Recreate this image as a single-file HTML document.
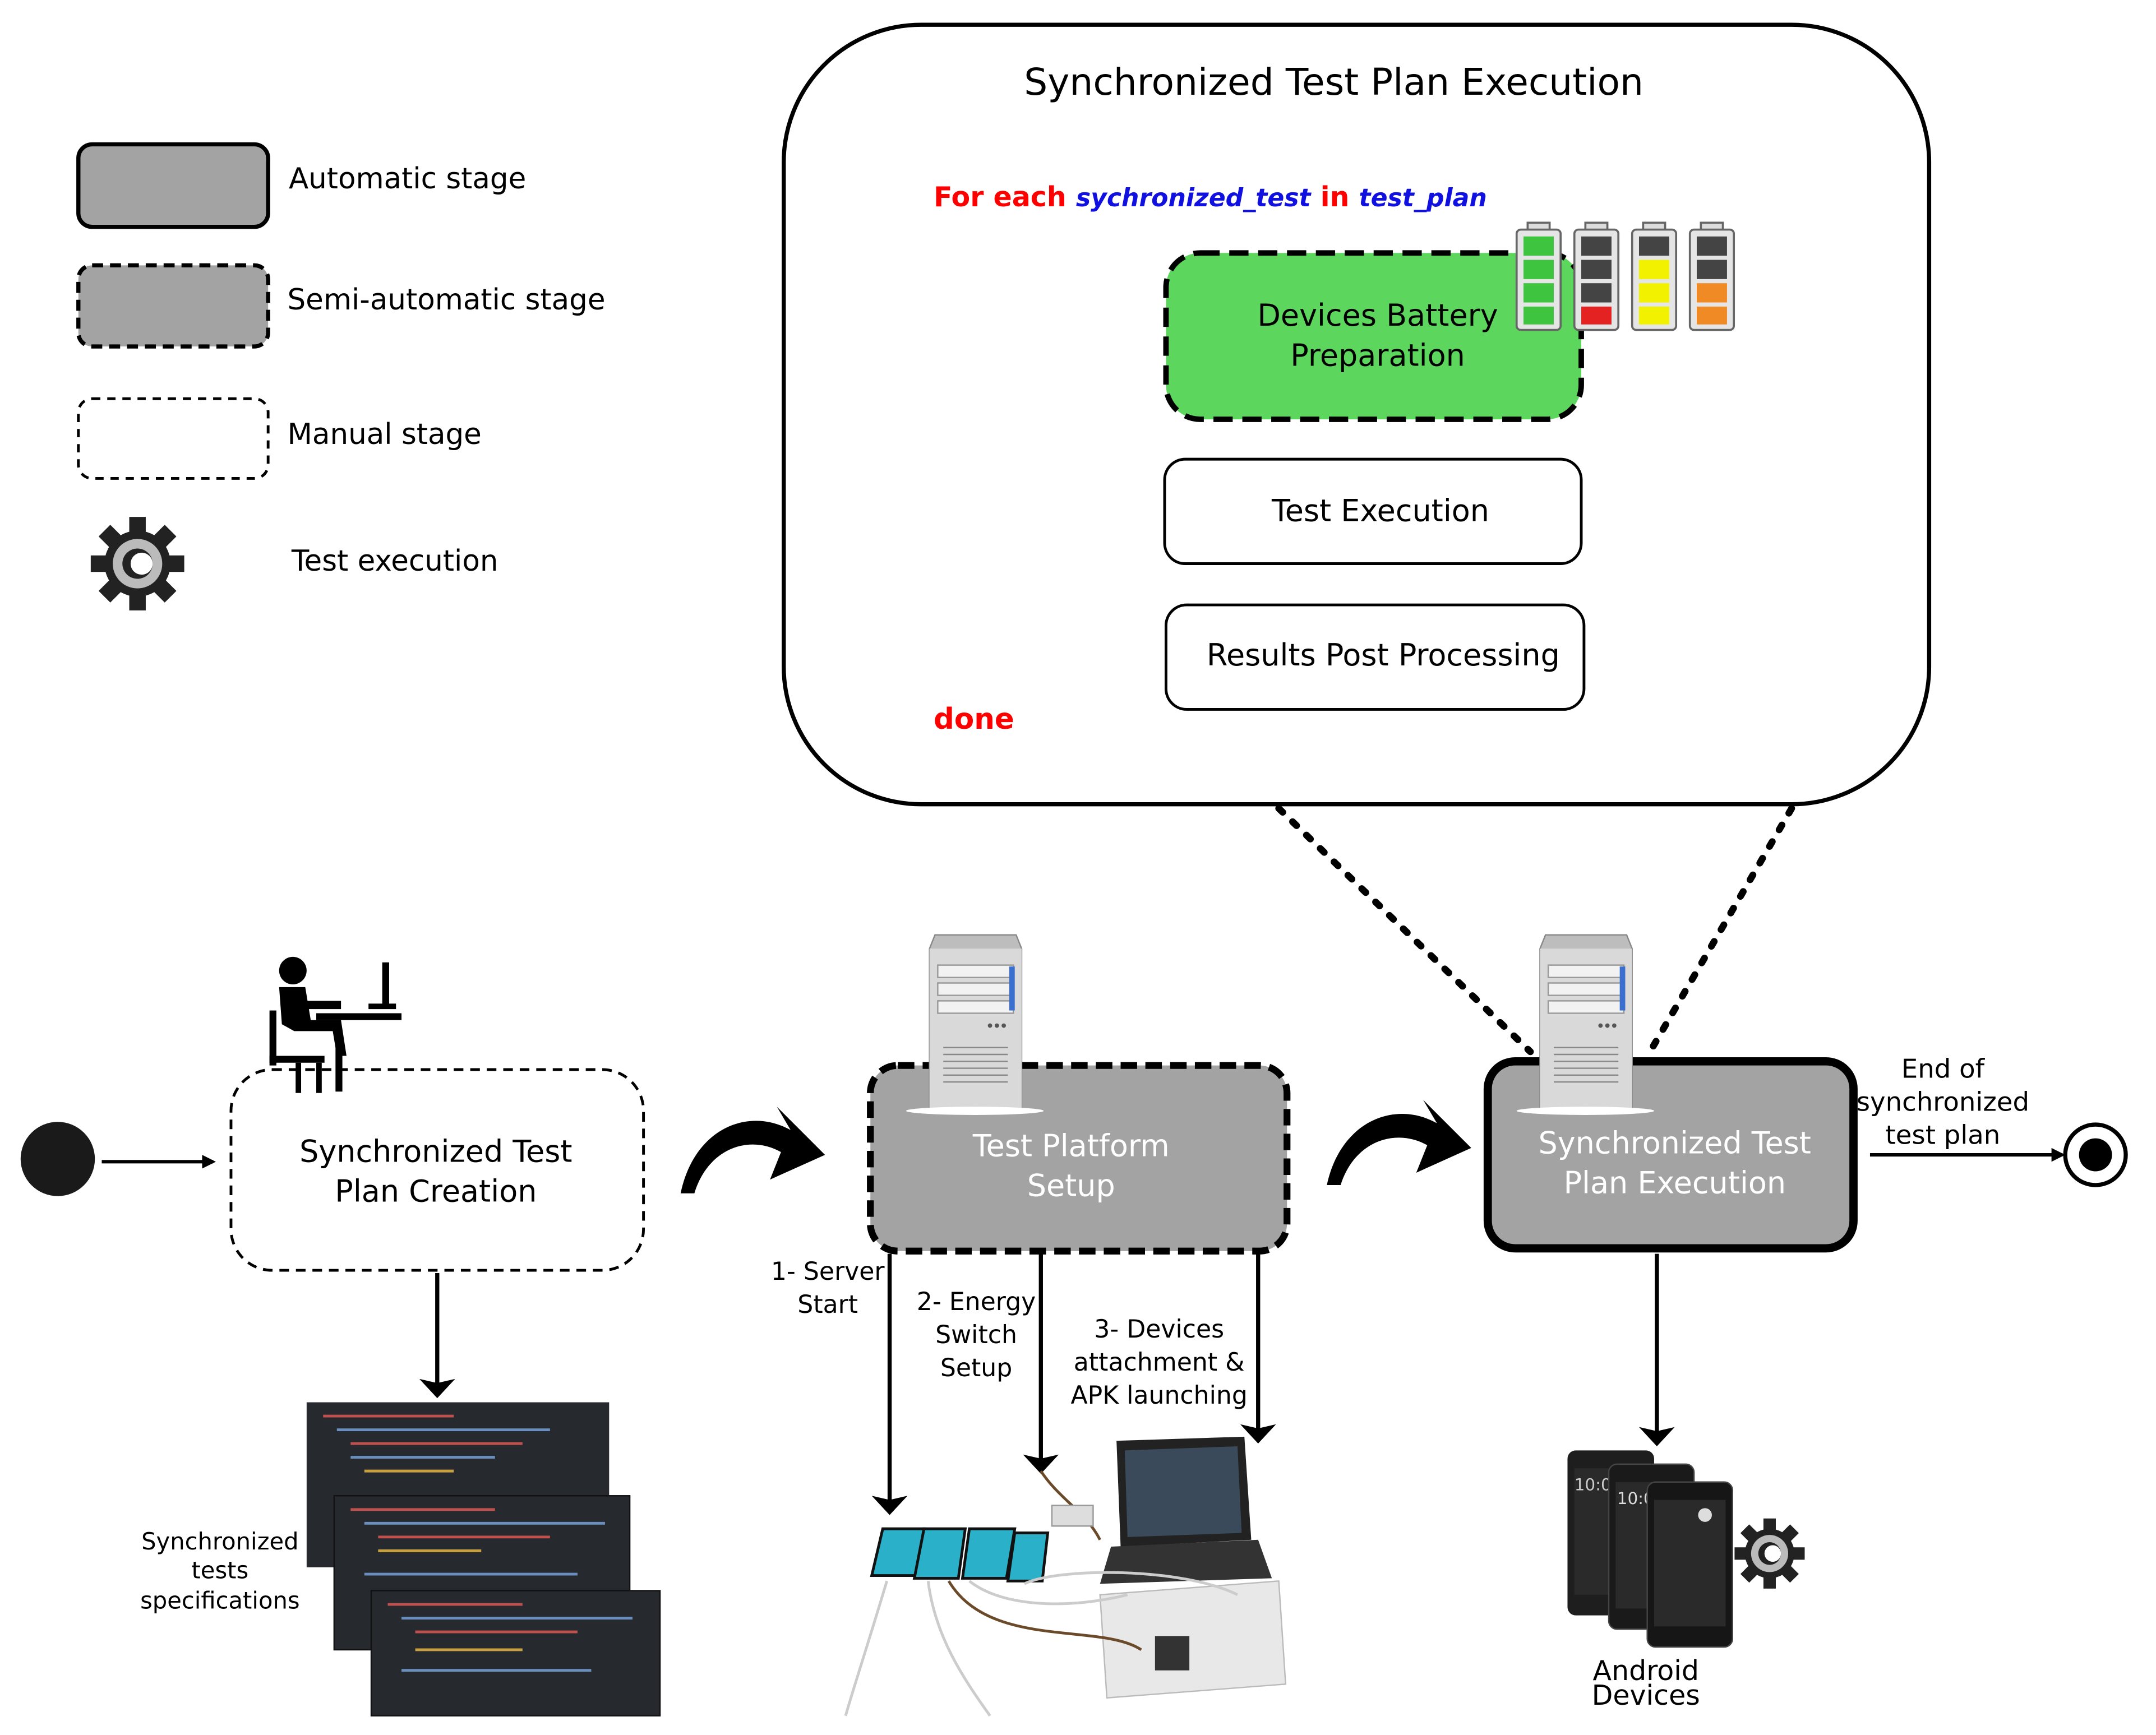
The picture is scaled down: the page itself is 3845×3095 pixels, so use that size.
<!DOCTYPE html>
<html><head><meta charset="utf-8"><style>
html,body{margin:0;padding:0;background:#fff;}
svg{display:block;}
text{font-family:"DejaVu Sans","Liberation Sans",sans-serif;}
</style></head><body>
<svg width="3845" height="3095" viewBox="0 0 1568 1262" preserveAspectRatio="none" xmlns="http://www.w3.org/2000/svg">
<defs>
<marker id="ah" markerWidth="10" markerHeight="10" refX="8" refY="5" orient="auto" markerUnits="userSpaceOnUse"><path d="M0,0 L10,5 L0,10 z" fill="#000"/></marker>
<marker id="ahb" markerWidth="14" markerHeight="26" refX="12" refY="13" orient="auto" markerUnits="userSpaceOnUse"><path d="M0,0 L14,13 L0,26 L3,13 z" fill="#000"/></marker>
<g id="gear">
<circle r="24" fill="#222"/>
<g fill="#222">
<rect x="-6" y="-34" width="12" height="16"/><rect x="-6" y="18" width="12" height="16"/>
<rect x="-34" y="-6" width="16" height="12"/><rect x="18" y="-6" width="16" height="12"/>
<rect x="-6" y="-34" width="12" height="16" transform="rotate(45)"/><rect x="-6" y="18" width="12" height="16" transform="rotate(45)"/>
<rect x="-34" y="-6" width="16" height="12" transform="rotate(45)"/><rect x="18" y="-6" width="16" height="12" transform="rotate(45)"/>
</g>
<circle r="18" fill="#bbb"/><circle r="11" fill="#222"/><circle cx="3" r="8" fill="#fff"/>
</g>
<g id="server">
<path d="M4,0 L63,0 L67,10 L67,128 L0,128 L0,10 z" fill="#bdbdbd" stroke="#888"/>
<rect x="0" y="10" width="67" height="118" fill="#d9d9d9"/>
<rect x="6" y="22" width="55" height="9" fill="#f2f2f2" stroke="#999"/>
<rect x="6" y="35" width="55" height="9" fill="#f2f2f2" stroke="#999"/>
<rect x="6" y="48" width="55" height="9" fill="#f2f2f2" stroke="#999"/>
<rect x="58" y="23" width="4" height="32" fill="#3a6fd0"/>
<circle cx="44" cy="66" r="1.6" fill="#555"/><circle cx="49" cy="66" r="1.6" fill="#555"/><circle cx="54" cy="66" r="1.6" fill="#555"/>
<g stroke="#888" stroke-width="1"><line x1="10" y1="82" x2="57" y2="82"/><line x1="10" y1="87" x2="57" y2="87"/><line x1="10" y1="92" x2="57" y2="92"/><line x1="10" y1="97" x2="57" y2="97"/><line x1="10" y1="102" x2="57" y2="102"/><line x1="10" y1="107" x2="57" y2="107"/></g>
<ellipse cx="33" cy="128" rx="50" ry="3" fill="#fff"/>
</g>
</defs>

<!-- Legend -->
<rect x="57" y="105" width="138" height="60" rx="10" fill="#a3a3a3" stroke="#000" stroke-width="3"/>
<text x="210" y="137" font-size="21">Automatic stage</text>
<rect x="57" y="193" width="138" height="59" rx="10" fill="#a3a3a3" stroke="#000" stroke-width="3" stroke-dasharray="8,5"/>
<text x="209" y="225" font-size="21">Semi-automatic stage</text>
<rect x="57" y="290" width="138" height="58" rx="10" fill="#fff" stroke="#000" stroke-width="2" stroke-dasharray="6,5"/>
<text x="209" y="323" font-size="21">Manual stage</text>
<use href="#gear" x="100" y="410"/>
<text x="212" y="415" font-size="21">Test execution</text>

<!-- Big box -->
<rect x="570" y="18" width="833" height="567" rx="100" fill="#fff" stroke="#000" stroke-width="3"/>
<text x="970" y="69" font-size="27" text-anchor="middle">Synchronized Test Plan Execution</text>
<text x="679" y="150" font-size="20" font-weight="bold"><tspan fill="#ff0000">For each </tspan><tspan fill="#1010e0" font-style="italic" font-size="18">sychronized_test</tspan><tspan fill="#ff0000"> in </tspan><tspan fill="#1010e0" font-style="italic" font-size="18">test_plan</tspan></text>
<rect x="848" y="184" width="302" height="121" rx="25" fill="#5cd65c" stroke="#000" stroke-width="4" stroke-dasharray="14,7"/>
<text x="1002" y="237" font-size="22" text-anchor="middle">Devices Battery</text>
<text x="1002" y="266" font-size="22" text-anchor="middle">Preparation</text>
<!-- batteries -->
<g stroke="#666" stroke-width="1.5">
<rect x="1111" y="162" width="16" height="6" fill="#ddd"/><rect x="1103" y="167" width="32" height="73" rx="3" fill="#e5e5e5"/>
<rect x="1153" y="162" width="16" height="6" fill="#ddd"/><rect x="1145" y="167" width="32" height="73" rx="3" fill="#e5e5e5"/>
<rect x="1195" y="162" width="16" height="6" fill="#ddd"/><rect x="1187" y="167" width="32" height="73" rx="3" fill="#e5e5e5"/>
<rect x="1237" y="162" width="16" height="6" fill="#ddd"/><rect x="1229" y="167" width="32" height="73" rx="3" fill="#e5e5e5"/>
</g>
<g>
<rect x="1108" y="172" width="22" height="14" fill="#3ec43e"/><rect x="1108" y="189" width="22" height="14" fill="#3ec43e"/><rect x="1108" y="206" width="22" height="14" fill="#3ec43e"/><rect x="1108" y="223" width="22" height="13" fill="#3ec43e"/>
<rect x="1150" y="172" width="22" height="14" fill="#444"/><rect x="1150" y="189" width="22" height="14" fill="#444"/><rect x="1150" y="206" width="22" height="14" fill="#444"/><rect x="1150" y="223" width="22" height="13" fill="#e52222"/>
<rect x="1192" y="172" width="22" height="14" fill="#444"/><rect x="1192" y="189" width="22" height="14" fill="#f2f200"/><rect x="1192" y="206" width="22" height="14" fill="#f2f200"/><rect x="1192" y="223" width="22" height="13" fill="#f2f200"/>
<rect x="1234" y="172" width="22" height="14" fill="#444"/><rect x="1234" y="189" width="22" height="14" fill="#444"/><rect x="1234" y="206" width="22" height="14" fill="#f08a24"/><rect x="1234" y="223" width="22" height="13" fill="#f08a24"/>
</g>
<rect x="847" y="334" width="303" height="76" rx="15" fill="#fff" stroke="#000" stroke-width="2"/>
<text x="1004" y="379" font-size="22" text-anchor="middle">Test Execution</text>
<rect x="848" y="440" width="304" height="76" rx="15" fill="#fff" stroke="#000" stroke-width="2"/>
<text x="1006" y="484" font-size="22" text-anchor="middle">Results Post Processing</text>
<text x="679" y="530" font-size="21" font-weight="bold" fill="#ff0000">done</text>

<!-- dotted connectors -->
<line x1="930" y1="588" x2="1113" y2="765" stroke="#000" stroke-width="5" stroke-dasharray="4,10" stroke-linecap="round"/>
<line x1="1303" y1="588" x2="1200" y2="765" stroke="#000" stroke-width="5" stroke-dasharray="4,10" stroke-linecap="round"/>

<!-- start -->
<circle cx="42" cy="843" r="27" fill="#1a1a1a"/>
<line x1="74" y1="845" x2="155" y2="845" stroke="#000" stroke-width="2.5" marker-end="url(#ah)"/>

<!-- Manual box -->
<rect x="168" y="778" width="300" height="146" rx="30" fill="#fff" stroke="#000" stroke-width="2" stroke-dasharray="7,5"/>
<text x="317" y="845" font-size="22" text-anchor="middle">Synchronized Test</text>
<text x="317" y="874" font-size="22" text-anchor="middle">Plan Creation</text>
<!-- person -->
<g fill="#000">
<circle cx="213" cy="706" r="10"/>
<path d="M203,718 L222,718 L226,742 L248,742 L252,768 L245,768 L242,750 L214,750 L205,745 z"/>
<rect x="196" y="735" width="5" height="40"/><rect x="196" y="768" width="40" height="5"/>
<rect x="215" y="773" width="4" height="22"/><rect x="230" y="773" width="4" height="22"/>
<rect x="244" y="752" width="5" height="42"/>
<rect x="230" y="737" width="62" height="5"/>
<rect x="278" y="700" width="5" height="32"/><rect x="268" y="730" width="20" height="4"/>
<rect x="222" y="728" width="26" height="6"/>
</g>

<!-- curved arrows -->
<path d="M495,868 C505,820 545,805 575,822 L565,805 L600,840 L560,858 L568,838 C545,825 515,835 505,868 z" fill="#000"/>
<path d="M965,862 C975,815 1015,800 1045,817 L1035,800 L1070,835 L1030,853 L1038,833 C1015,820 985,830 975,862 z" fill="#000"/>

<!-- Semi-auto box -->
<rect x="633" y="775" width="303" height="135" rx="20" fill="#a3a3a3" stroke="#000" stroke-width="5" stroke-dasharray="12,6"/>
<text x="779" y="841" font-size="22" text-anchor="middle" fill="#fff">Test Platform</text>
<text x="779" y="870" font-size="22" text-anchor="middle" fill="#fff">Setup</text>
<use href="#server" x="676" y="680"/>

<!-- Auto box -->
<rect x="1082" y="772" width="266" height="136" rx="20" fill="#a3a3a3" stroke="#000" stroke-width="6"/>
<text x="1218" y="839" font-size="22" text-anchor="middle" fill="#fff">Synchronized Test</text>
<text x="1218" y="868" font-size="22" text-anchor="middle" fill="#fff">Plan Execution</text>
<use href="#server" x="1120" y="680"/>

<!-- end -->
<text x="1413" y="784" font-size="19" text-anchor="middle">End of</text>
<text x="1413" y="808" font-size="19" text-anchor="middle">synchronized</text>
<text x="1413" y="832" font-size="19" text-anchor="middle">test plan</text>
<line x1="1360" y1="840" x2="1500" y2="840" stroke="#000" stroke-width="2.5" marker-end="url(#ah)"/>
<circle cx="1524" cy="840" r="22" fill="#fff" stroke="#000" stroke-width="3"/>
<circle cx="1524" cy="840" r="12" fill="#000"/>

<!-- spec arrow & code screenshots -->
<line x1="318" y1="926" x2="318" y2="1015" stroke="#000" stroke-width="3" marker-end="url(#ahb)"/>
<g>
<rect x="223" y="1020" width="220" height="120" fill="#26292e"/>
<rect x="243" y="1088" width="215" height="112" fill="#26292e" stroke="#111"/>
<rect x="270" y="1157" width="210" height="91" fill="#26292e" stroke="#111"/>
<g stroke-width="2">
<line x1="235" y1="1030" x2="330" y2="1030" stroke="#c0504d"/><line x1="245" y1="1040" x2="400" y2="1040" stroke="#6a8fbf"/><line x1="255" y1="1050" x2="380" y2="1050" stroke="#c0504d"/><line x1="255" y1="1060" x2="360" y2="1060" stroke="#6a8fbf"/><line x1="265" y1="1070" x2="330" y2="1070" stroke="#c8a040"/>
<line x1="255" y1="1098" x2="360" y2="1098" stroke="#c0504d"/><line x1="265" y1="1108" x2="440" y2="1108" stroke="#6a8fbf"/><line x1="275" y1="1118" x2="400" y2="1118" stroke="#c0504d"/><line x1="275" y1="1128" x2="350" y2="1128" stroke="#c8a040"/><line x1="265" y1="1145" x2="420" y2="1145" stroke="#6a8fbf"/>
<line x1="282" y1="1167" x2="380" y2="1167" stroke="#c0504d"/><line x1="292" y1="1177" x2="460" y2="1177" stroke="#6a8fbf"/><line x1="302" y1="1187" x2="420" y2="1187" stroke="#c0504d"/><line x1="302" y1="1200" x2="380" y2="1200" stroke="#c8a040"/><line x1="292" y1="1215" x2="430" y2="1215" stroke="#6a8fbf"/>
</g>
</g>
<text x="160" y="1127" font-size="17" text-anchor="middle">Synchronized</text>
<text x="160" y="1148" font-size="17" text-anchor="middle">tests</text>
<text x="160" y="1170" font-size="17" text-anchor="middle">specifications</text>

<!-- platform arrows -->
<line x1="647" y1="912" x2="647" y2="1100" stroke="#000" stroke-width="3" marker-end="url(#ahb)"/>
<line x1="757" y1="912" x2="757" y2="1070" stroke="#000" stroke-width="3" marker-end="url(#ahb)"/>
<line x1="915" y1="912" x2="915" y2="1048" stroke="#000" stroke-width="3" marker-end="url(#ahb)"/>
<text x="602" y="931" font-size="18" text-anchor="middle">1- Server</text>
<text x="602" y="955" font-size="18" text-anchor="middle">Start</text>
<text x="710" y="953" font-size="18" text-anchor="middle">2- Energy</text>
<text x="710" y="977" font-size="18" text-anchor="middle">Switch</text>
<text x="710" y="1001" font-size="18" text-anchor="middle">Setup</text>
<text x="843" y="973" font-size="18" text-anchor="middle">3- Devices</text>
<text x="843" y="997" font-size="18" text-anchor="middle">attachment &amp;</text>
<text x="843" y="1021" font-size="18" text-anchor="middle">APK launching</text>

<!-- devices photo (simplified) -->
<g>
<path d="M800,1160 L930,1150 L935,1225 L805,1235 z" fill="#e8e8e8" stroke="#bbb"/>
<rect x="840" y="1190" width="25" height="25" fill="#333"/>
<path d="M812,1048 L905,1045 L910,1120 L815,1125 z" fill="#222"/>
<path d="M818,1055 L900,1052 L903,1115 L820,1118 z" fill="#3a4a5a"/>
<path d="M808,1125 L915,1120 L925,1148 L800,1152 z" fill="#333"/>
<g stroke="#111" stroke-width="2">
<path d="M642,1112 L672,1112 L666,1146 L634,1146 z" fill="#2ab0c8"/>
<path d="M672,1112 L702,1112 L697,1148 L665,1148 z" fill="#2ab0c8"/>
<path d="M705,1112 L738,1112 L732,1148 L700,1148 z" fill="#2ab0c8"/>
<path d="M738,1115 L762,1115 L758,1150 L733,1150 z" fill="#2ab0c8"/>
</g>
<g stroke="#ccc" stroke-width="2" fill="none">
<path d="M645,1150 C630,1200 620,1230 615,1248"/>
<path d="M675,1150 C680,1190 700,1220 720,1248"/>
<path d="M705,1150 C730,1170 780,1170 820,1160"/>
<path d="M745,1152 C770,1140 860,1140 900,1160"/>
</g>
<g stroke="#6b4a2a" stroke-width="2" fill="none">
<path d="M757,1070 C770,1090 790,1100 800,1120"/>
<path d="M690,1150 C720,1200 800,1180 830,1200"/>
</g>
<rect x="765" y="1095" width="30" height="15" fill="#ddd" stroke="#999"/>
</g>

<!-- android -->
<line x1="1205" y1="912" x2="1205" y2="1050" stroke="#000" stroke-width="3" marker-end="url(#ahb)"/>
<g>
<rect x="1140" y="1055" width="63" height="120" rx="6" fill="#1e1e1e"/>
<rect x="1145" y="1068" width="53" height="92" fill="#2a2a2a"/>
<text x="1145" y="1084" font-size="12" fill="#ccc">10:0</text>
<rect x="1170" y="1065" width="62" height="120" rx="6" fill="#1a1a1a" stroke="#444"/>
<rect x="1175" y="1078" width="52" height="92" fill="#2a2a2a"/>
<text x="1176" y="1094" font-size="12" fill="#ddd">10:08</text>
<rect x="1198" y="1078" width="62" height="120" rx="6" fill="#161616" stroke="#444"/>
<rect x="1203" y="1091" width="52" height="92" fill="#2a2a2a"/>
<circle cx="1240" cy="1102" r="5" fill="#ddd"/>
</g>
<use href="#gear" x="1287" y="1130" transform="translate(1287,1130) scale(0.75) translate(-1287,-1130)"/>
<text x="1197" y="1222" font-size="20" text-anchor="middle">Android</text>
<text x="1197" y="1240" font-size="20" text-anchor="middle">Devices</text>
</svg>
</body></html>
